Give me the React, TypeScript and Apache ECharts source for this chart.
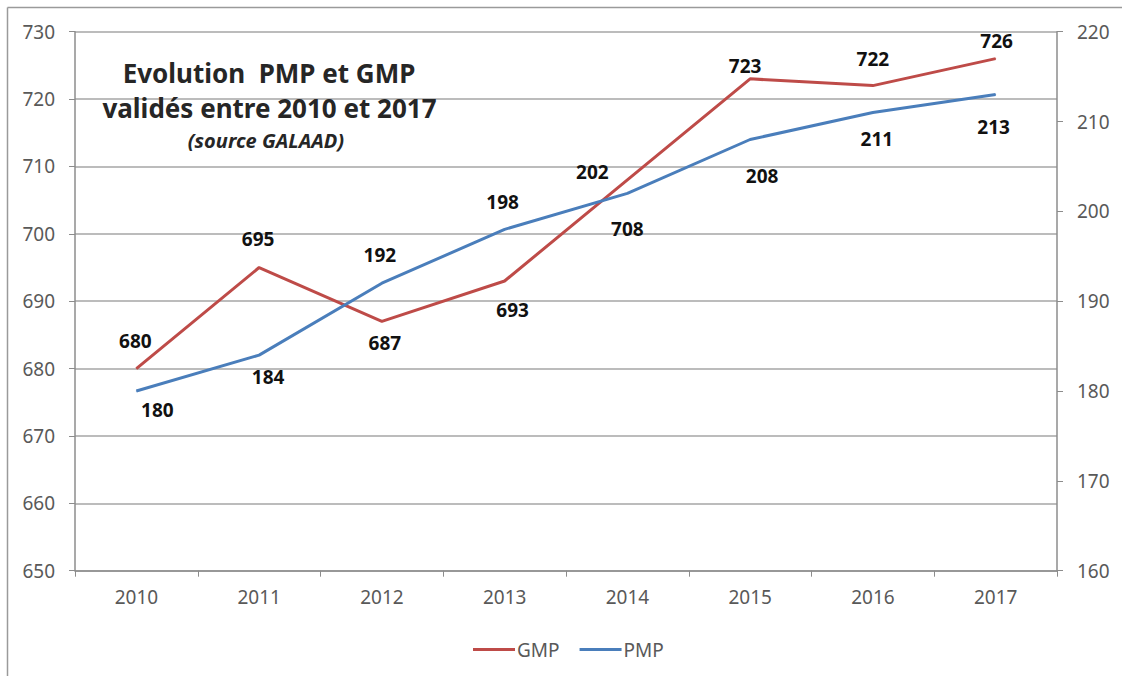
import React, { useEffect, useRef } from "react";
import * as echarts from "echarts";

const years = ["2010", "2011", "2012", "2013", "2014", "2015", "2016", "2017"];
const gmpValues = [680, 695, 687, 693, 708, 723, 722, 726];
const pmpValues = [180, 184, 192, 198, 202, 208, 211, 213];
const leftTicks = { min: 650, max: 730, interval: 10 };
const rightTicks = { min: 160, max: 220, interval: 10 };
const titleLines = ["Evolution  PMP et GMP", "validés entre 2010 et 2017", "(source GALAAD)"];

// label placement offsets (label centre relative to the point), in px
const gmpLabelOffsets = [[-1, -28], [-1, -29], [3, 22], [8, 29], [0, 49], [-5, -13], [0, -27], [1, -18]];
const pmpLabelOffsets = [[21, 19], [9, 22], [-2, -28], [-2, -27], [-35, -21], [12, 36], [4, 26], [-2, 32]];

const FONT = "'Noto Sans', 'Open Sans', sans-serif";
const RED = "#BE4B48";
const BLUE = "#4A7EBB";
const AXIS_TEXT = "#595959";

export default function App() {
  const ref = useRef<HTMLDivElement>(null);

  useEffect(() => {
    if (!ref.current) return;
    const chart = echarts.init(ref.current, undefined, { renderer: "svg" });

    const mkData = (vals: number[], offs: number[][]) =>
      vals.map((v, i) => ({ value: v, label: { offset: offs[i] } }));

    const labelStyle = {
      show: true,
      position: "inside",
      align: "center",
      verticalAlign: "middle",
      color: "#111",
      fontFamily: FONT,
      fontWeight: "bold",
      fontSize: 19,
    };

    chart.setOption({
      animation: false,
      backgroundColor: "#fff",
      textStyle: { fontFamily: FONT },
      grid: { left: 75, right: 65, top: 31.7, bottom: 105.3, containLabel: false },
      graphic: [
        { type: "line", shape: { x1: 7.5, y1: 7.5, x2: 1122, y2: 7.5 }, style: { stroke: "#9a9a9a", lineWidth: 1.5 } },
        { type: "line", shape: { x1: 7.5, y1: 7.5, x2: 7.5, y2: 676 }, style: { stroke: "#9a9a9a", lineWidth: 1.5 } },
        {
          type: "text", x: 269, y: 73, z: 10,
          style: { text: titleLines[0], textAlign: "center", textVerticalAlign: "middle", fontFamily: FONT, fontWeight: "bold", fontSize: 26, fill: "#262626" },
        },
        {
          type: "text", x: 269.5, y: 108, z: 10,
          style: { text: titleLines[1], textAlign: "center", textVerticalAlign: "middle", fontFamily: FONT, fontWeight: "bold", fontSize: 26, fill: "#262626" },
        },
        {
          type: "text", x: 266, y: 140, z: 10,
          style: { text: titleLines[2], textAlign: "center", textVerticalAlign: "middle", fontFamily: FONT, fontWeight: "bold", fontStyle: "italic", fontSize: 20, fill: "#262626" },
        },
      ],
      legend: {
        data: ["GMP", "PMP"],
        left: 468,
        top: 635,
        icon: "rect",
        itemWidth: 42,
        itemHeight: 3,
        itemGap: 20,
        textStyle: { fontFamily: FONT, fontSize: 19, color: AXIS_TEXT, padding: [0, 0, 0, -3] },
      },
      xAxis: {
        type: "category",
        data: years,
        boundaryGap: true,
        axisLine: { show: true, lineStyle: { color: "#8c8c8c", width: 1.5 } },
        axisTick: { show: true, length: 6, lineStyle: { color: "#8c8c8c" } },
        axisLabel: { fontFamily: FONT, fontSize: 19, color: AXIS_TEXT, margin: 17 },
      },
      yAxis: [
        {
          type: "value",
          position: "left",
          min: leftTicks.min,
          max: leftTicks.max,
          interval: leftTicks.interval,
          axisLine: { show: true, lineStyle: { color: "#8c8c8c", width: 1.5 } },
          axisTick: { show: true, length: 6, lineStyle: { color: "#8c8c8c" } },
          axisLabel: { fontFamily: FONT, fontSize: 19, color: AXIS_TEXT, margin: 20 },
          splitLine: { show: true, lineStyle: { color: "#a6a6a6", width: 1.5 } },
        },
        {
          type: "value",
          position: "right",
          min: rightTicks.min,
          max: rightTicks.max,
          interval: rightTicks.interval,
          axisLine: { show: true, lineStyle: { color: "#8c8c8c", width: 1.5 } },
          axisTick: { show: true, length: 6, lineStyle: { color: "#8c8c8c" } },
          axisLabel: { fontFamily: FONT, fontSize: 19, color: AXIS_TEXT, margin: 20 },
          splitLine: { show: false },
        },
      ],
      series: [
        {
          name: "GMP",
          type: "line",
          yAxisIndex: 0,
          data: mkData(gmpValues, gmpLabelOffsets),
          color: RED,
          lineStyle: { color: RED, width: 3 },
          symbol: "circle",
          symbolSize: 1,
          showSymbol: true,
          label: labelStyle,
          z: 3,
        },
        {
          name: "PMP",
          type: "line",
          yAxisIndex: 1,
          data: mkData(pmpValues, pmpLabelOffsets),
          color: BLUE,
          lineStyle: { color: BLUE, width: 3 },
          symbol: "circle",
          symbolSize: 1,
          showSymbol: true,
          label: labelStyle,
          z: 4,
        },
      ],
    });

    return () => chart.dispose();
  }, []);

  return (
    <div
      ref={ref}
      style={{ position: "fixed", left: 0, top: 0, width: 1122, height: 676, background: "#fff" }}
    />
  );
}
